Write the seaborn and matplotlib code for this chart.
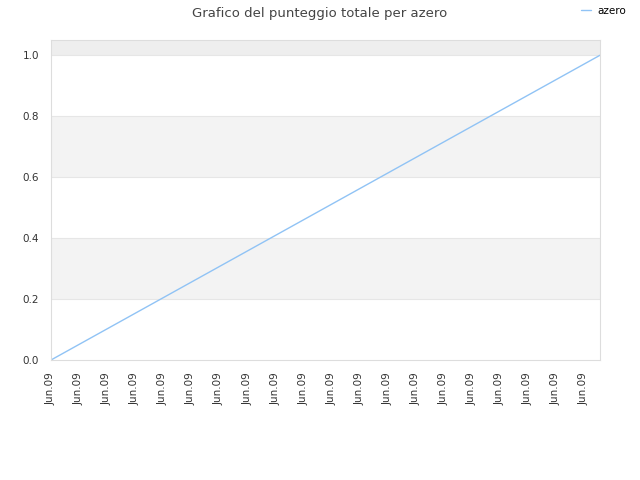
import matplotlib
matplotlib.use("Agg")
import matplotlib.pyplot as plt
import seaborn as sns
import pandas as pd

series_name = "azero"
x_values = [0.0, 19.6]
y_values = [0.0, 1.0]
tick_positions = list(range(20))
tick_labels = ["Jun.09"] * 20
title = "Grafico del punteggio totale per azero"

sns.set_theme(style="white")
plt.rcParams['font.family'] = ['DejaVu Sans']

df = pd.DataFrame({"x": x_values, "y": y_values, "serie": series_name})

fig = plt.figure(figsize=(6.4, 4.8), dpi=100)
ax = fig.add_axes([51/640, 120/480, 549/640, 320/480])

# alternating bands
bands = [(0.0, 0.2, "#ffffff"), (0.2, 0.4, "#f3f3f3"), (0.4, 0.6, "#ffffff"),
         (0.6, 0.8, "#f3f3f3"), (0.8, 1.0, "#ffffff"), (1.0, 1.05, "#eeeeee")]
for lo, hi, c in bands:
    ax.axhspan(lo, hi, color=c, zorder=0, lw=0)
for yv in [0.2, 0.4, 0.6, 0.8, 1.0]:
    ax.axhline(yv, color="#e6e6e6", lw=0.8, zorder=0.5)

sns.lineplot(data=df, x="x", y="y", hue="serie", palette=["#90c3f5"], lw=1, ax=ax, zorder=2)

ax.set_xlim(0, 19.6)
ax.set_ylim(0, 1.05)
ax.set_xticks(tick_positions)
ax.set_xticklabels(tick_labels, rotation=90, fontsize=7.5, color="#333333")
ax.set_yticks([0.0, 0.2, 0.4, 0.6, 0.8, 1.0])
ax.set_yticklabels(["0.0", "0.2", "0.4", "0.6", "0.8", "1.0"], fontsize=7.5, color="#333333")
ax.tick_params(axis="both", length=0, pad=8.5)
ax.set_xlabel("")
ax.set_ylabel("")
for s in ax.spines.values():
    s.set_color("#dddddd")
    s.set_linewidth(0.8)

fig.suptitle(title, fontsize=9.5, color="#444444", y=0.985)
handles, labels = ax.get_legend_handles_labels()
ax.get_legend().remove()
leg = fig.legend(handles, labels, loc="center right", bbox_to_anchor=(626/640, 1 - 11/480),
                 frameon=False, fontsize=7.5, handlelength=1.0, handletextpad=0.6,
                 borderaxespad=0, borderpad=0)
for t in leg.get_texts():
    t.set_color("#000000")

fig.savefig("out.png", dpi=100)
